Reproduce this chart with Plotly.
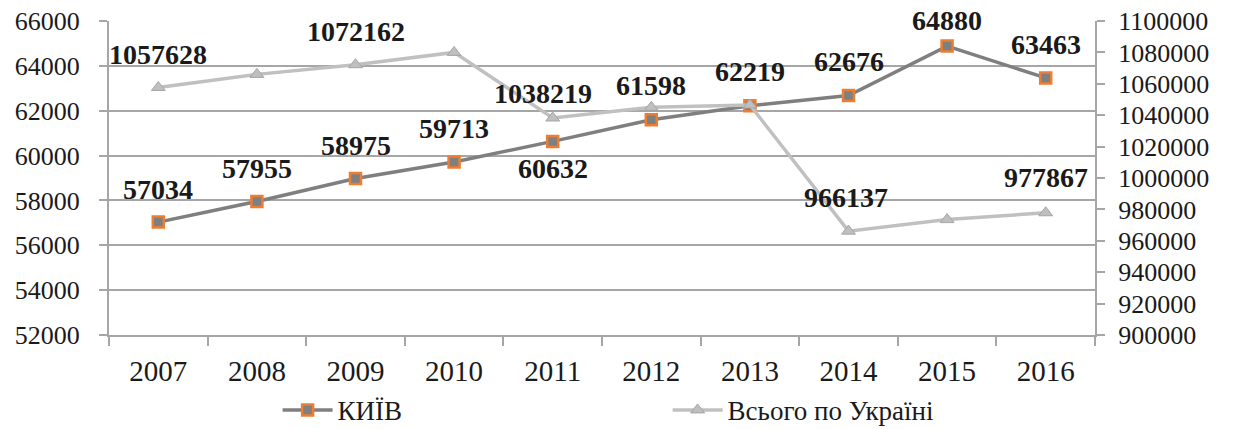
import plotly.graph_objects as go

years = ["2007", "2008", "2009", "2010", "2011", "2012", "2013", "2014", "2015", "2016"]
kyiv = [57034, 57955, 58975, 59713, 60632, 61598, 62219, 62676, 64880, 63463]
ukraine = [1057628, 1066000, 1072162, 1080000, 1038219, 1045000, 1046500, 966137, 973500, 977867]
ukraine_labels = ["1057628", "", "1072162", "", "1038219", "", "", "966137", "", "977867"]
kyiv_labels = [str(v) for v in kyiv]

# label offsets (styling)
kyiv_yshift = [33, 33, 33, 34, -27, 34, 34, 34, 26, 33]
ukr_yshift = [33, 0, 33, 0, 25, 0, 0, 34, 0, 35]
ukr_xshift = [0, 0, 0, 0, -10, 0, 0, -3, 0, 0]

FONT = "Liberation Serif"
GRID = "#a6a6a6"
TXT = "#1a1a1a"

fig = go.Figure()
fig.add_trace(go.Scatter(
    x=years, y=kyiv, name="КИЇВ", mode="lines+markers",
    line=dict(color="#7f7f7f", width=3.5),
    marker=dict(symbol="square", size=11, color="#7f7f7f",
                line=dict(color="#ed7d31", width=2.5)),
    yaxis="y",
))
fig.add_trace(go.Scatter(
    x=years, y=ukraine, name="Всього по Україні", mode="lines+markers",
    line=dict(color="#c0c0c0", width=3.5),
    marker=dict(symbol="triangle-up", size=12, color="#bfbfbf",
                line=dict(color="#a6a6a6", width=1)),
    yaxis="y2",
))

for i, (v, t, s) in enumerate(zip(kyiv, kyiv_labels, kyiv_yshift)):
    fig.add_annotation(x=i, y=v, xref="x", yref="y", text="<b>" + t + "</b>",
                       showarrow=False, yshift=s,
                       font=dict(family=FONT, size=28, color=TXT))
for i, (v, t, s, xs) in enumerate(zip(ukraine, ukraine_labels, ukr_yshift, ukr_xshift)):
    if t:
        fig.add_annotation(x=i, y=v, xref="x", yref="y2", text="<b>" + t + "</b>",
                           showarrow=False, yshift=s, xshift=xs,
                           font=dict(family=FONT, size=28, color=TXT))

fig.update_layout(
    width=1238, height=429,
    margin=dict(l=109, r=143, t=21, b=94, autoexpand=False),
    paper_bgcolor="white", plot_bgcolor="white",
    font=dict(family=FONT, size=26, color=TXT),
    showlegend=True,
    legend=dict(orientation="h", x=0.171, xanchor="left", y=-0.24, yanchor="middle",
                entrywidth=325, entrywidthmode="pixels",
                font=dict(family=FONT, size=27, color=TXT), itemwidth=50),
    xaxis=dict(type="category", range=[-0.5, 9.5], tickson="boundaries",
               ticks="outside", ticklen=9, tickcolor=GRID, tickwidth=2,
               showline=True, linecolor=GRID, linewidth=2, automargin=False,
               showgrid=False, ticklabelstandoff=9,
               tickfont=dict(family=FONT, size=29, color=TXT)),
    yaxis=dict(range=[52000, 66000], dtick=2000, tickformat="d", automargin=False,
               showgrid=True, gridcolor=GRID, gridwidth=2,
               showline=True, linecolor=GRID, linewidth=2,
               ticks="outside", ticklen=8, tickcolor=GRID, tickwidth=2,
               ticklabelstandoff=14, zeroline=False,
               tickfont=dict(family=FONT, size=26, color=TXT)),
    yaxis2=dict(range=[900000, 1100000], dtick=20000, tickformat="d", automargin=False,
                overlaying="y", side="right", showgrid=False,
                showline=True, linecolor=GRID, linewidth=2,
                ticks="outside", ticklen=8, tickcolor=GRID, tickwidth=2,
                ticklabelstandoff=8, zeroline=False,
                tickfont=dict(family=FONT, size=26, color=TXT)),
)

fig.write_html("out.html", config={"displayModeBar": False},
               post_script="document.body.style.margin='0';")
